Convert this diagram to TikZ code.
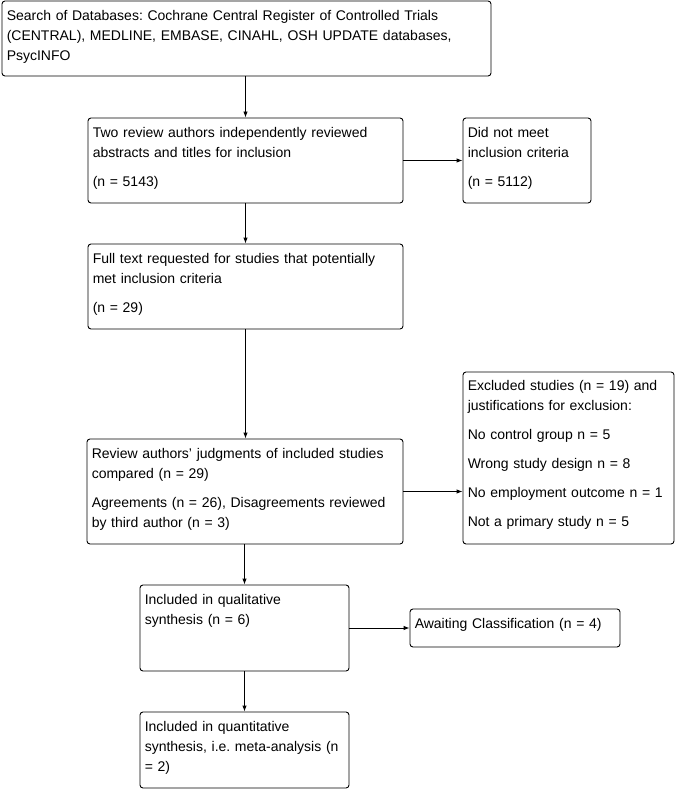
\documentclass[tikz,border=0pt]{standalone}
\usepackage{fontspec}
\setmainfont{Liberation Sans}
\usetikzlibrary{arrows.meta,calc}
\frenchspacing
\begin{document}
\begin{tikzpicture}[x=1pt,y=-1pt,
  box/.style={draw=black,line width=0.9pt,rounded corners=3pt,inner sep=0pt,minimum width=#1},
  txt/.style={anchor=base west,inner sep=0pt,align=left,text width=#1,
    font=\fontsize{14}{20}\selectfont},
  conn/.style={draw=black,line width=0.9pt,-{Latex[length=6pt,width=4.5pt]}}]
\useasboundingbox (0,0) rectangle (676,789);
\fill[white] (0,0) rectangle (676,789);
% boxes
\node[box=489pt,minimum height=75pt] (b1) at (246.5,38.5) {};
\node[box=315pt,minimum height=85pt] (b2) at (245.5,160.5) {};
\node[box=128pt,minimum height=85pt] (b3) at (527,160.5) {};
\node[box=315pt,minimum height=85pt] (b4) at (245.5,286.5) {};
\node[box=316pt,minimum height=105pt] (b5) at (245,491.5) {};
\node[box=211pt,minimum height=172pt] (b6) at (568.5,458) {};
\node[box=209pt,minimum height=86pt] (b7) at (244.5,628) {};
\node[box=210pt,minimum height=38pt] (b8) at (515,628) {};
\node[box=209pt,minimum height=76pt] (b9) at (244.5,750) {};
% texts
\node[txt=480pt] (t1) at ($(b1.north west)+(5,20)$)
  {Search of Databases: Cochrane Central Register of Controlled Trials\\
   (CENTRAL), MEDLINE, EMBASE, CINAHL, OSH UPDATE databases,\\
   PsycINFO};
\node[txt=305pt] (t2) at ($(b2.north west)+(5,19.5)$)
  {Two review authors independently reviewed\\
   abstracts and titles for inclusion\\[9.5pt]
   (n = 5143)};
\node[txt=120pt] (t3) at ($(b3.north west)+(5,19.5)$)
  {Did not meet\\ inclusion criteria\\[9.5pt] (n = 5112)};
\node[txt=305pt] (t4) at ($(b4.north west)+(5,19.5)$)
  {Full text requested for studies that potentially\\
   met inclusion criteria\\[9.5pt] (n = 29)};
\node[txt=306pt] (t5) at ($(b5.north west)+(5,19.5)$)
  {Review authors{\char"0027} judgments of included studies\\
   compared (n = 29)\\[9.5pt]
   Agreements (n = 26), Disagreements reviewed\\
   by third author (n = 3)};
\node[txt=202pt] (t6) at ($(b6.north west)+(5,18.5)$)
  {Excluded studies (n = 19) and\\
   justifications for exclusion:\\[9pt]
   No control group n = 5\\[9pt]
   Wrong study design n = 8\\[9pt]
   No employment outcome n = 1\\[9pt]
   Not a primary study n = 5};
\node[txt=200pt] (t7) at ($(b7.north west)+(5,19.5)$)
  {Included in qualitative\\ synthesis (n = 6)};
\node[txt=200pt] (t8) at ($(b8.north west)+(5,20)$)
  {Awaiting Classification (n = 4)};
\node[txt=200pt] (t9) at ($(b9.north west)+(5,19.5)$)
  {Included in quantitative\\ synthesis, i.e. meta-analysis (n\\
   \char"003D\ 2)};
% connectors
\draw[conn] (b2.north |- b1.south) -- (b2.north);
\draw[conn] (b2.east) -- (b3.west |- b2.east);
\draw[conn] (b2.south) -- (b4.north);
\draw[conn] (b4.south) -- (b4.south |- b5.north);
\draw[conn] (b5.east) -- (b6.west |- b5.east);
\draw[conn] (b5.south -| b7.north) -- (b7.north);
\draw[conn] (b7.east |- b8.west) -- (b8.west);
\draw[conn] (b7.south) -- (b9.north);
\end{tikzpicture}
\end{document}
